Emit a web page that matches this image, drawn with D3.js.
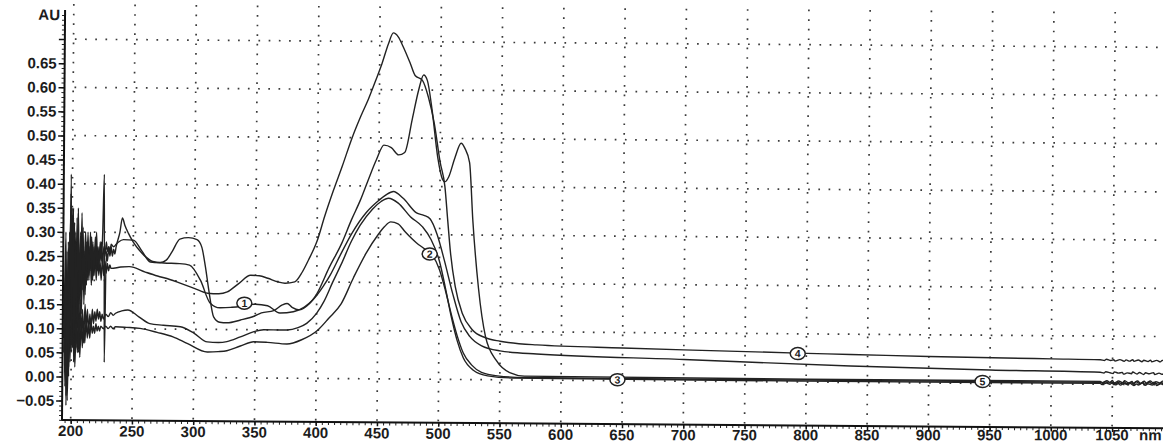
<!DOCTYPE html>
<html><head><meta charset="utf-8">
<script src="https://cdn.jsdelivr.net/npm/d3@7"></script>
<style>html,body{margin:0;padding:0;background:#fff}svg{display:block}</style>
</head><body>
<svg id="chart" width="1163" height="444"></svg>
<script>
// ---------------- data ----------------
const xTicks = [200,250,300,350,400,450,500,550,600,650,700,750,800,850,900,950,1000,1050];
const yTicks = [-0.05,0,0.05,0.1,0.15,0.2,0.25,0.3,0.35,0.4,0.45,0.5,0.55,0.6,0.65];
const yGrid = [0,0.1,0.2,0.3,0.4,0.5,0.6,0.7];
const yUnit = "AU";
const xUnit = "nm";

// curve 1 (label 1)
const curve1 = [[194,0.18],[195,0.02],[196,0.26],[197,-0.02],[198,0.30],[199,0.12],[200,0.35],[201,0.18],[202,0.32],[203,0.05],[204,0.33],[205,0.10],[206,0.25],[207,0.15],[208,0.34],[209,0.18],[210,0.26],[211,0.17],[212,0.28],[213,0.20],[214,0.27],[215,0.22],[216,0.29],[217,0.20],[218,0.27],[219,0.23],[220,0.30],[221,0.22],[222,0.27],[223,0.24],[224,0.28],[225,0.23],[226,0.27],[227,0.25],[228,0.28],[229,0.26],[230,0.27],[231,0.26],[232,0.275],[234,0.27],[236,0.275],[238,0.28],[242,0.285],[250,0.284],[257,0.262],[264,0.239],[275,0.237],[288,0.236],[296,0.233],[305,0.202],[313,0.155],[321,0.145],[330,0.146],[337,0.148],[343,0.152],[350,0.153],[360,0.15],[370,0.135],[381,0.138],[390,0.148],[397,0.163],[405,0.19],[411,0.215],[419,0.256],[428,0.30],[440,0.345],[450,0.37],[456,0.382],[462,0.389],[470,0.375],[481,0.345],[487,0.34],[492,0.333],[498,0.30],[504,0.247],[511,0.178],[518,0.12],[525,0.09],[535,0.07],[550,0.06],[580,0.054],[700,0.045],[836,0.034],[950,0.028],[1040,0.025],[1043,0.0235],[1044.5,0.026],[1048,0.024],[1050.5,0.0225],[1051.5,0.026],[1055,0.0235],[1058,0.025],[1059,0.0215],[1062,0.024],[1065.5,0.0225],[1066.5,0.026],[1070,0.022],[1072,0.025],[1075.5,0.021],[1077,0.0245],[1080,0.0225],[1083.5,0.025],[1084.5,0.021],[1088,0.024],[1091,0.0215],[1092,0.025],[1095,0.0225]];
// curve 2 (label 2)
const curve2 = [[194,0.15],[195,-0.02],[196,0.10],[197,-0.05],[198,0.14],[199,0.03],[200,0.17],[201,0.06],[202,0.14],[203,0.02],[204,0.12],[205,0.05],[206,0.13],[207,0.04],[208,0.12],[209,0.06],[210,0.11],[211,0.07],[212,0.12],[213,0.08],[214,0.11],[215,0.08],[216,0.115],[217,0.09],[218,0.105],[219,0.09],[220,0.11],[221,0.095],[222,0.105],[223,0.095],[224,0.105],[226,0.10],[228,0.105],[230,0.10],[232,0.105],[234,0.1],[236,0.104],[245,0.103],[256,0.101],[270,0.093],[283,0.084],[295,0.07],[311,0.053],[320,0.054],[327,0.056],[338,0.066],[349,0.075],[360,0.074],[376,0.071],[388,0.08],[401,0.1],[410,0.125],[420,0.155],[430,0.21],[440,0.26],[450,0.3],[455,0.316],[460,0.326],[466,0.322],[472,0.305],[481,0.283],[488,0.27],[494,0.258],[500,0.228],[505,0.185],[510,0.135],[515,0.09],[520,0.055],[527,0.03],[535,0.015],[548,0.008],[570,0.005],[800,0.004],[1040,0.004],[1042.5,0.002],[1044,0.0055],[1047.5,0.0025],[1049,0.005],[1053,0.001],[1054,0.0045],[1057.5,0.002],[1060,0.006],[1061,0.001],[1064.5,0.0045],[1068,0.001],[1069,0.006],[1072.5,0.002],[1075,0.005],[1076,0.0005],[1080,0.0055],[1082.5,0.0015],[1084,0.005],[1087.5,0.001],[1090,0.0055],[1091.5,0.0015],[1095,0.004]];
// curve 3 (label 3)
const curve3 = [[194,0.08],[195,0.20],[196,-0.06],[197,0.15],[198,0.00],[199,0.25],[200,0.05],[201,0.22],[202,0.03],[203,0.18],[204,0.06],[205,0.20],[206,0.05],[207,0.16],[208,0.08],[209,0.14],[210,0.07],[211,0.15],[212,0.10],[213,0.14],[214,0.09],[215,0.13],[216,0.10],[217,0.14],[218,0.11],[219,0.135],[220,0.115],[221,0.14],[222,0.12],[223,0.135],[224,0.115],[225,0.13],[226,0.12],[228,0.13],[230,0.125],[232,0.133],[234,0.128],[236,0.132],[241,0.137],[246,0.139],[255,0.125],[264,0.111],[275,0.108],[289,0.105],[300,0.092],[311,0.074],[320,0.073],[327,0.075],[338,0.085],[349,0.096],[357,0.1],[365,0.1],[376,0.1],[385,0.105],[392,0.114],[400,0.135],[406,0.16],[413,0.2],[420,0.238],[428,0.285],[435,0.318],[445,0.352],[452,0.368],[458,0.375],[466,0.365],[476,0.337],[486,0.316],[493,0.29],[500,0.245],[505,0.19],[510,0.13],[515,0.08],[520,0.045],[528,0.02],[540,0.008],[560,0.004],[800,0.002],[1040,0.002],[1041.5,-0.0005],[1045,0.0025],[1048,0.0],[1049.5,0.003],[1052.5,-0.001],[1055,0.002],[1056.5,-0.0015],[1060,0.0025],[1063,-0.001],[1064,0.003],[1067.5,-0.002],[1070,0.0015],[1071,-0.001],[1074.5,0.003],[1077,-0.0015],[1079,0.002],[1082.5,-0.001],[1085,0.003],[1086,-0.0015],[1089.5,0.002],[1093,-0.001],[1095,0.002]];
// curve 4 (label 4)
const curve4 = [[194,0.12],[195,0.30],[196,0.02],[197,0.28],[198,0.10],[199,0.38],[200,0.15],[201,0.33],[202,0.08],[203,0.30],[204,0.14],[205,0.34],[206,0.12],[207,0.29],[208,0.18],[209,0.31],[210,0.15],[211,0.27],[212,0.19],[213,0.30],[214,0.21],[215,0.26],[216,0.19],[217,0.27],[218,0.21],[219,0.25],[220,0.20],[221,0.26],[222,0.21],[223,0.24],[224,0.20],[225,0.25],[226,0.21],[227,0.24],[228,0.215],[229,0.235],[230,0.22],[231,0.232],[232,0.225],[240,0.228],[247,0.229],[260,0.218],[270,0.21],[280,0.203],[289,0.195],[300,0.185],[311,0.175],[320,0.174],[327,0.178],[336,0.195],[346,0.213],[353,0.212],[360,0.207],[368,0.2],[374,0.197],[382,0.2],[388,0.22],[393,0.245],[400,0.285],[406,0.336],[413,0.39],[420,0.44],[428,0.50],[435,0.545],[441,0.58],[447,0.62],[452,0.655],[457,0.695],[461,0.718],[465,0.71],[469,0.69],[475,0.655],[479,0.63],[485,0.62],[490,0.585],[495,0.53],[500,0.45],[504,0.40],[506.5,0.33],[509,0.262],[513,0.193],[519,0.137],[527,0.104],[538,0.087],[550,0.08],[580,0.073],[650,0.068],[700,0.065],[793,0.06],[836,0.058],[900,0.055],[1000,0.052],[1040,0.051],[1043.5,0.0495],[1045,0.052],[1048.5,0.0495],[1051,0.051],[1052,0.0485],[1056,0.0515],[1059.5,0.048],[1061,0.051],[1064,0.0485],[1066.5,0.0515],[1067.5,0.048],[1071,0.051],[1074,0.0475],[1075.5,0.0505],[1079,0.048],[1081,0.051],[1082,0.0475],[1086,0.0505],[1089,0.0475],[1090.5,0.0505],[1095,0.048]];
// curve 5 (label 5)
const curve5 = [[194,0.05],[195,0.22],[196,-0.04],[197,0.18],[198,0.02],[199,0.42],[200,0.10],[201,0.35],[202,0.05],[203,0.28],[204,0.11],[205,0.35],[206,0.16],[207,0.30],[208,0.13],[209,0.27],[210,0.20],[211,0.30],[212,0.22],[213,0.28],[214,0.20],[215,0.30],[216,0.22],[217,0.28],[218,0.21],[219,0.29],[220,0.23],[221,0.27],[222,0.22],[223,0.28],[224,0.24],[225,0.30],[226,0.42],[227,0.03],[228,0.26],[229,0.24],[230,0.27],[231,0.25],[232,0.27],[233,0.25],[234,0.265],[235,0.255],[236,0.27],[239,0.30],[241,0.33],[243,0.315],[246,0.298],[250,0.28],[255,0.263],[260,0.25],[266,0.24],[272,0.238],[277,0.243],[282,0.262],[288,0.287],[295,0.29],[302,0.286],[306,0.27],[309,0.23],[312,0.18],[316,0.126],[321,0.115],[327,0.114],[338,0.12],[349,0.128],[355,0.135],[365,0.14],[372,0.152],[376,0.155],[380,0.147],[386,0.142],[392,0.15],[400,0.175],[410,0.23],[420,0.28],[428,0.33],[435,0.37],[441,0.41],[448,0.455],[454,0.485],[460,0.48],[466,0.465],[471,0.47],[477,0.54],[482,0.6],[486,0.631],[489,0.62],[493,0.56],[498,0.46],[502,0.415],[504,0.41],[507,0.42],[512,0.46],[517,0.49],[520,0.48],[524,0.45],[527,0.33],[532,0.19],[538,0.09],[547,0.04],[558,0.015],[570,0.008],[800,0.006],[1040,0.006],[1042,0.0035],[1045.5,0.0075],[1048,0.004],[1050,0.008],[1051.5,0.003],[1055,0.007],[1058.5,0.0035],[1060,0.008],[1063.5,0.0025],[1066,0.0065],[1067,0.003],[1070.5,0.0075],[1073,0.0025],[1076,0.007],[1077.5,0.003],[1081,0.0075],[1084,0.002],[1085.5,0.0065],[1089,0.003],[1091,0.0075],[1095,0.004]];

const curves = [curve1, curve2, curve3, curve4, curve5];
const labelNames = ["1","2","3","4","5"];
const labelNm = [341, 492, 646, 793, 944];
const labelAu = [0.155, 0.26, 0.002, 0.059, 0.004];

// ---------------- drawing ----------------
const svg = d3.select("#chart");
const W = 1163, H = 444;
const x = d3.scaleLinear().domain([200,1050]).range([70.7, 1112.1]);
const y = d3.scaleLinear().domain([0,0.7]).range([376.5, 39.1]);
const axisX = 62, axisY = 420;
const tilt = 0.43, sinT = Math.sin(tilt * Math.PI / 180);
const yTop = y.invert(10);
const fontFam = "Liberation Sans, Arial, Helvetica, sans-serif";
const ink = "#1c1c1c";

const g = svg.append("g").attr("transform", `rotate(${tilt}, ${axisX}, ${axisY})`);

// grid
const gridColor = "#3a3a3a";
g.append("g").selectAll("line").data(xTicks).join("line")
  .attr("x1", d => x(d)).attr("x2", d => x(d))
  .attr("y1", y(yTop) - 6).attr("y2", axisY)
  .attr("stroke", gridColor).attr("stroke-width", 1.7)
  .attr("stroke-dasharray", "1.7,7.9");
g.append("g").selectAll("line").data(yGrid).join("line")
  .attr("x1", axisX + 10).attr("x2", W + 20)
  .attr("y1", d => y(d)).attr("y2", d => y(d))
  .attr("stroke", gridColor).attr("stroke-width", 1.7)
  .attr("stroke-dasharray", "1.7,8.5");

// curves
const line = d3.line().x(d => x(d[0])).y(d => y(d[1])).curve(d3.curveMonotoneX);
g.append("g").selectAll("path").data(curves).join("path")
  .attr("d", line).attr("fill", "none")
  .attr("stroke", "#222").attr("stroke-width", 1.4)
  .attr("stroke-linejoin", "round");

// curve labels
const lab = g.append("g").selectAll("g").data(labelNames).join("g")
  .attr("transform", (d,i) => `translate(${x(labelNm[i])},${y(labelAu[i])})`);
lab.append("ellipse").attr("rx", 7.5).attr("ry", 6).attr("fill", "#fff")
  .attr("stroke", "#222").attr("stroke-width", 1.5);
lab.append("text").text(d => d).attr("text-anchor", "middle").attr("dy", "0.36em")
  .attr("font-family", fontFam).attr("font-weight", "bold")
  .attr("font-size", 10.5).attr("fill", ink);

// y axis
const yAxis = d3.axisLeft(y).tickValues(yTicks.concat([0.7])).tickSize(6).tickPadding(2)
  .tickFormat(d => d === 0.7 ? "" : d3.format(".2f")(d));
const yMinor = d3.axisLeft(y).tickValues(d3.range(-0.09, 0.755, 0.01)).tickSize(3).tickFormat("");
g.append("g").attr("transform", `translate(${axisX},0)`).call(yMinor)
  .call(s => s.select(".domain").remove())
  .call(s => s.selectAll("line").attr("stroke", "#222").attr("stroke-width", 1));
const ya = g.append("g").attr("transform", `translate(${axisX},0)`).call(yAxis);
ya.select(".domain").remove();
ya.selectAll("line").attr("stroke", "#111").attr("stroke-width", 1.5);
ya.selectAll("text").attr("font-family", fontFam).attr("font-weight", "bold")
  .attr("font-size", 15).attr("fill", ink);

// x axis (ticks from axis generator, labels placed to stay inside the page)
const xAxis = d3.axisBottom(x).tickValues(xTicks).tickSize(4).tickFormat("");
const xMinor = d3.axisBottom(x).tickValues(d3.range(195, 1095, 5)).tickSize(3).tickFormat("");
g.append("g").attr("transform", `translate(0,${axisY})`).call(xMinor)
  .call(s => s.select(".domain").remove())
  .call(s => s.selectAll("line").attr("stroke", "#222").attr("stroke-width", 1));
const xa = g.append("g").attr("transform", `translate(0,${axisY})`).call(xAxis);
xa.select(".domain").remove();
xa.selectAll("line").attr("stroke", "#111").attr("stroke-width", 1.5);
const baseY = axisY + 16;
const lift = px => Math.max(0, (px - axisX) * sinT - 4.3);
g.append("g").selectAll("text").data(xTicks).join("text")
  .text(d => d3.format("d")(d))
  .attr("x", d => x(d)).attr("y", d => baseY - lift(x(d)))
  .attr("text-anchor", "middle")
  .attr("font-family", fontFam).attr("font-weight", "bold").attr("font-size", 15).attr("fill", ink);

// axis lines
g.append("line").attr("x1", axisX).attr("x2", axisX).attr("y1", y(yTop)).attr("y2", axisY)
  .attr("stroke", "#111").attr("stroke-width", 2);
g.append("line").attr("x1", axisX).attr("x2", W + 20).attr("y1", axisY).attr("y2", axisY)
  .attr("stroke", "#111").attr("stroke-width", 2);

// unit labels
g.append("text").text(yUnit).attr("x", axisX - 5).attr("y", 20).attr("text-anchor", "end")
  .attr("font-family", fontFam).attr("font-weight", "bold").attr("font-size", 15).attr("fill", ink);
const nmX = x(1050) + 27;
g.append("text").text(xUnit).attr("x", nmX).attr("y", baseY - lift(nmX + 20))
  .attr("font-family", fontFam).attr("font-weight", "bold").attr("font-size", 15).attr("fill", ink);
</script>
</body></html>
